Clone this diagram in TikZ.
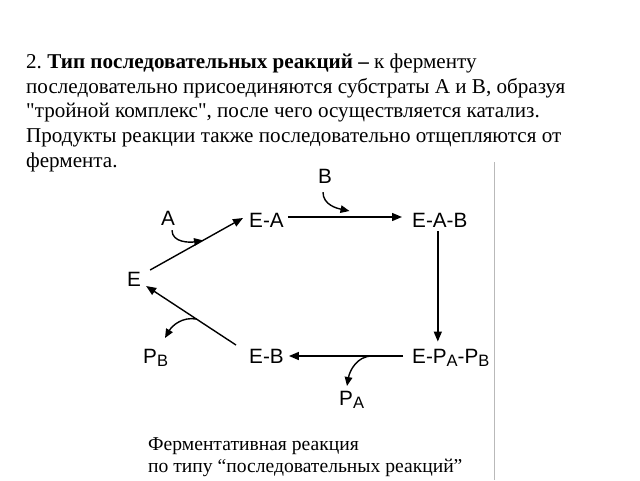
\documentclass[tikz,border=0pt]{standalone}
\usepackage{fontspec}
\setmainfont{Liberation Serif}[Ligatures=TeXOff]
\newfontfamily\diagfont{Liberation Sans}
\usetikzlibrary{arrows.meta,calc}
\newcommand\subl[1]{\raisebox{-3.5pt}{\fontsize{16.5}{16.5}\selectfont #1}}
\frenchspacing
\begin{document}
\begin{tikzpicture}[x=1pt,y=-1pt,
  para/.style={anchor=base west,inner sep=0pt,font=\fontsize{21.1}{24}\selectfont},
  capt/.style={anchor=base west,inner sep=0pt,font=\fontsize{19.6}{20}\selectfont},
  lbl/.style={inner sep=0pt,font=\diagfont\fontsize{20.7}{22}\selectfont},
  arr/.style={line width=1.4pt,-{Triangle[length=10pt,width=8pt]}},
  carr/.style={line width=1.4pt,-{Triangle[length=9pt,width=7.5pt]}}]
\useasboundingbox (0,0) rectangle (640,480);
\fill[white] (0,0) rectangle (640,480);
% paragraph
\node[para] (t1) at (26,68) {2. \textbf{Тип последовательных реакций –} к ферменту};
\node[para] (t2) at (26,93) {последовательно присоединяются субстраты А и В, образуя};
\node[para] (t3) at (26,117) {"тройной комплекс", после чего осуществляется катализ.};
\node[para] (t4) at (26,142) {Продукты реакции также последовательно отщепляются от};
\node[para] (t5) at (26,167) {фермента.};
% frame line
\draw[gray!55,line width=0.8pt] (494,162) -- (494,480);
% diagram nodes
\node[lbl,anchor=base] (E) at (134,286) {E};
\node[lbl,anchor=base west] (EA) at (249,227) {E-A};
\node[lbl,anchor=base west] (EAB) at (412,227) {E-A-B};
\node[lbl,anchor=base west] (EPP) at (412,363) {E-P\subl{A}-P\subl{B}};
\node[lbl,anchor=base west] (EB) at (249,363) {E-B};
\node[lbl,anchor=base west] (PB) at (143,363) {P\subl{B}};
\node[lbl,anchor=base west] (PA) at (339,405) {P\subl{A}};
\node[lbl,anchor=base] (A) at (168,225) {A};
\node[lbl,anchor=base] (B) at (325,183) {B};
% connectors
\coordinate (e1) at ([shift={(9,-16)}]E.base east);
\coordinate (ea1) at ([shift={(-6,-9)}]EA.base west);
\draw[arr] (e1) -- (ea1);
\coordinate (ea2) at ([shift={(4,-10)}]EA.base east);
\coordinate (eab2) at ([shift={(-10,-10)}]EAB.base west);
\draw[arr] (ea2) -- (eab2);
\coordinate (eab3) at ([shift={(-2,4)}]EAB.south);
\draw[arr,shorten >=7pt] (eab3) -- (eab3 |- EPP.north);
\coordinate (epp4) at ([shift={(-9,-7)}]EPP.base west);
\coordinate (eb4) at ([shift={(5,-7)}]EB.base east);
\draw[arr] (epp4) -- (eb4);
\coordinate (eb5) at ([shift={(-13,-18)}]EB.base west);
\coordinate (e5) at ([shift={(5,0)}]E.base east);
\draw[arr] (eb5) -- (e5);
% curved arrows
\draw[carr] ([shift={(4,5)}]A.south) to[out=-90,in=190] ($(e1)!0.57!(ea1)$);
\draw[carr] ([shift={(-2,9)}]B.south) to[out=-90,in=168] ($($(ea2)!0.54!(eab2)$)+(0,-6)$);
\draw[carr] ($(eb5)!0.44!(e5)$) to[out=170,in=60] ([shift={(22,-25)}]PB.base west);
\draw[carr] ($(epp4)!0.27!(eb4)$) to[out=180,in=80] ([shift={(8,-19)}]PA.base west);
% caption
\node[capt] (c1) at (148,450) {Ферментативная реакция};
\node[capt] (c2) at (148,472) {по типу “последовательных реакций”};
\end{tikzpicture}
\end{document}
